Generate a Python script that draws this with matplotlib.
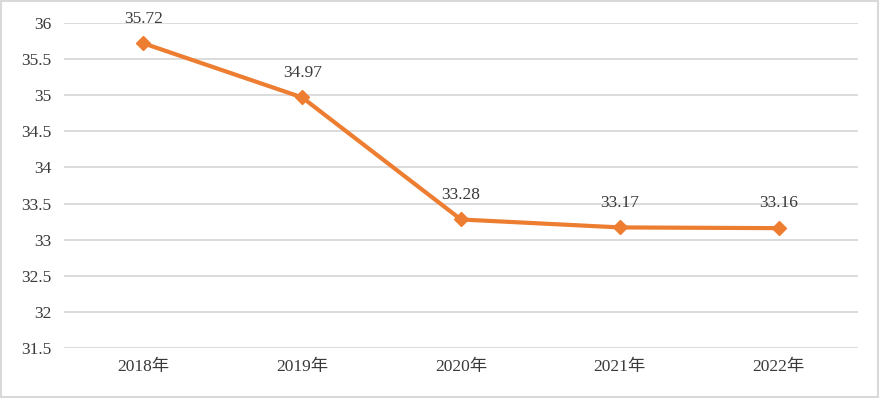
import numpy as np
import matplotlib.pyplot as plt
import matplotlib.patches as mpatches

plt.rcParams['font.family'] = ['Liberation Serif', 'Noto Sans CJK SC', 'DejaVu Sans']

years = ['2018年', '2019年', '2020年', '2021年', '2022年']
values = [35.72, 34.97, 33.28, 33.17, 33.16]
labels = ['35.72', '34.97', '33.28', '33.17', '33.16']
yticks = [31.5, 32, 32.5, 33, 33.5, 34, 34.5, 35, 35.5, 36]
ytick_labels = ['31.5', '32', '32.5', '33', '33.5', '34', '34.5', '35', '35.5', '36']

txt = '#3A3A3A'
fig = plt.figure(figsize=(8.8, 3.98), dpi=100)
ax = fig.add_axes([0.0727, 0.1256, 0.9023, 0.8164])

x = np.arange(len(years))
ax.plot(x, values, color='#ED7D31', lw=3, marker='D', ms=7.5, zorder=3)
for xi, v, s in zip(x, values, labels):
    ax.annotate(s, (xi, v), xytext=(0, 12), textcoords='offset points',
                ha='center', va='bottom', fontsize=12.5, color=txt)

ax.set_xlim(-0.5, len(years) - 0.5)
ax.set_ylim(31.5, 36)
ax.set_yticks(yticks)
ax.set_yticklabels(ytick_labels)
ax.set_xticks(x)
ax.set_xticklabels(years)
ax.tick_params(length=0, labelsize=12.5, labelcolor=txt)
ax.tick_params(axis='y', pad=9)
ax.tick_params(axis='x', pad=8)
ax.grid(axis='y', color='#D9D9D9', lw=1.3)
ax.set_axisbelow(True)
for sp in ax.spines.values():
    sp.set_visible(False)

fig.patches.append(mpatches.Rectangle((0.001, 0.002), 0.997, 0.995, transform=fig.transFigure,
                                      fill=False, edgecolor='#D9D9D9', lw=1.5))

fig.savefig('out.png', dpi=100)
